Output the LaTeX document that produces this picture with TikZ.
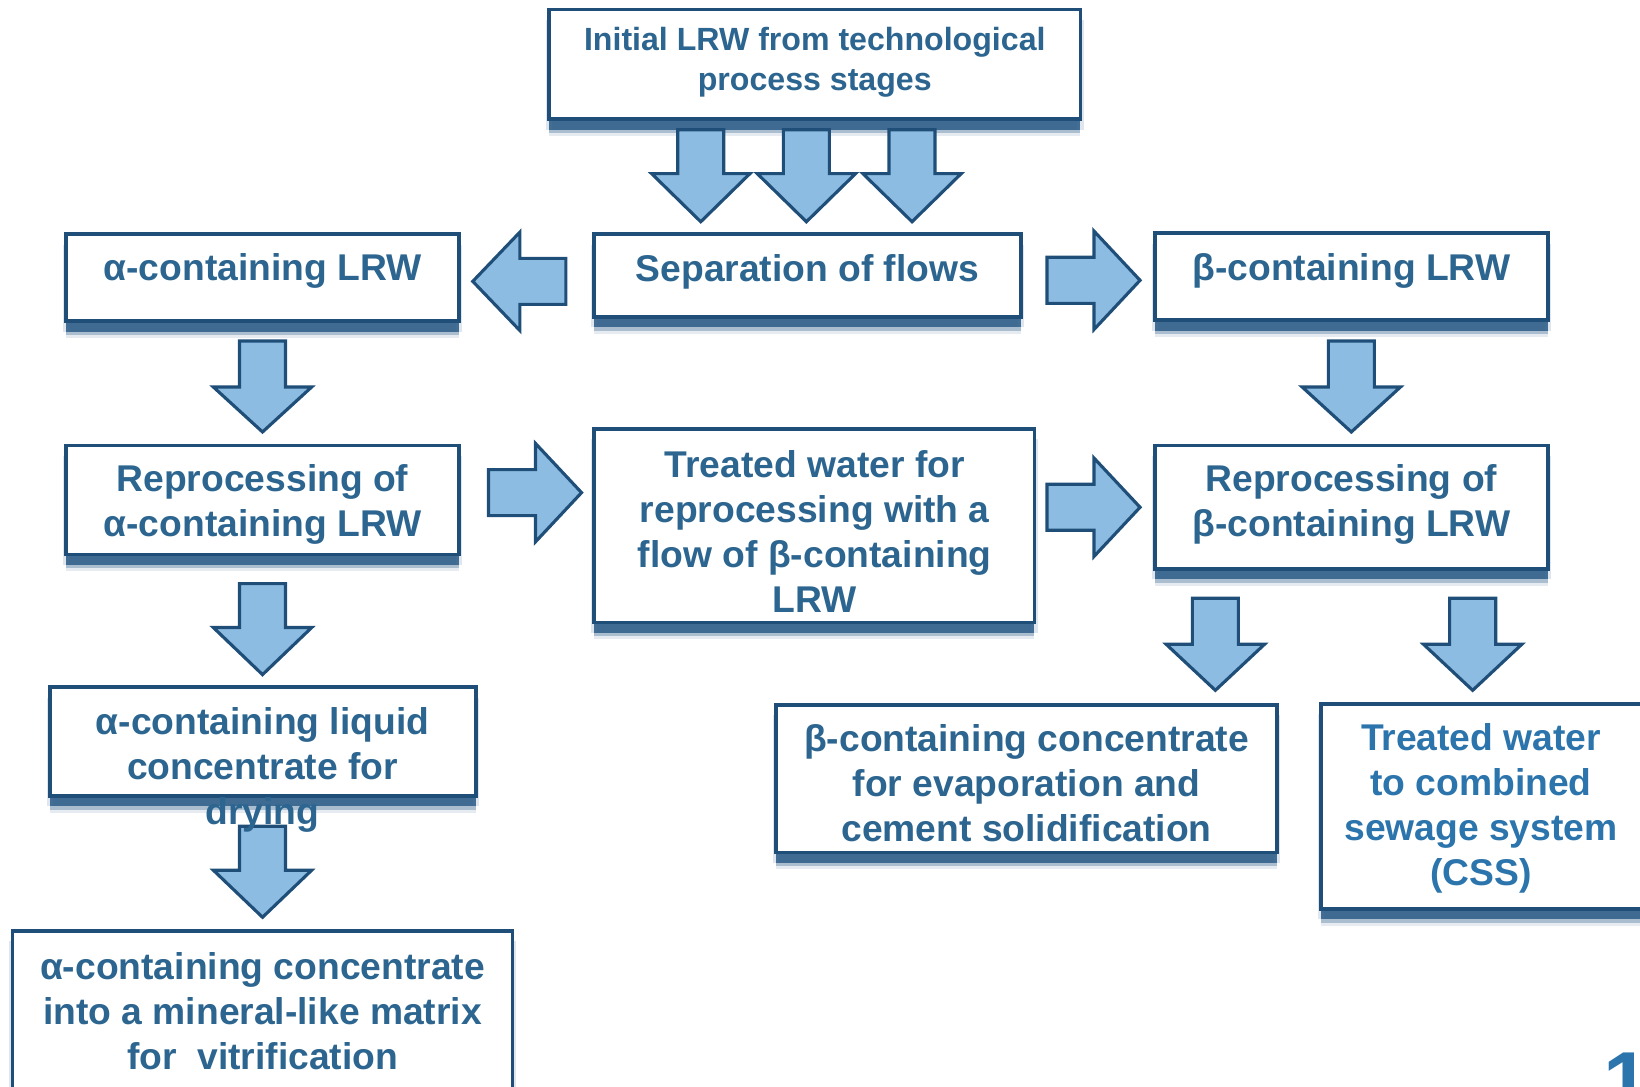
\documentclass[tikz,border=0pt]{standalone}
\usepackage{fontspec}
\setmainfont{Liberation Sans}
\usetikzlibrary{shadows}
\definecolor{bord}{RGB}{31,78,121}
\definecolor{txtc}{RGB}{44,101,143}
\definecolor{cssc}{RGB}{43,116,172}
\definecolor{arrf}{RGB}{141,188,226}
\definecolor{shad}{RGB}{38,88,133}
\newcommand\dnarr[4]{%
  \draw[barr] ({#1-22},#2) -- ({#1+22},#2) -- ({#1+22},#3) -- ({#1+47},#3) -- (#1,#4) -- ({#1-47},#3) -- ({#1-22},#3) -- cycle;}
\newcommand\rtarr[4]{%
  \draw[barr] (#2,{#1-22}) -- (#3,{#1-22}) -- (#3,{#1-47}) -- (#4,#1) -- (#3,{#1+47}) -- (#3,{#1+22}) -- (#2,{#1+22}) -- cycle;}
\begin{document}
\begin{tikzpicture}[x=1pt,y=-1pt,
  box/.style={draw=bord, line width=3.5pt, fill=white, inner sep=0pt,
    drop shadow={shadow xshift=0pt,shadow yshift=-16pt,opacity=.12,fill=shad},
    drop shadow={shadow xshift=-3pt,shadow yshift=-10pt,opacity=.15,fill=shad},
    drop shadow={shadow xshift=3pt,shadow yshift=-10pt,opacity=.15,fill=shad},
    drop shadow={shadow xshift=0pt,shadow yshift=-13pt,opacity=.3,fill=shad},
    drop shadow={shadow xshift=0pt,shadow yshift=-10pt,opacity=.75,fill=shad}},
  txt/.style={text=txtc, font=\bfseries\fontsize{35.6}{43}\selectfont, align=center, inner sep=0pt},
  barr/.style={draw=bord, fill=arrf, line width=3pt, line join=miter}]
\useasboundingbox (0,0) rectangle (1568,1039);
% boxes
\node[box, minimum width=508pt, minimum height=105pt] (top) at (779,61.5) {};
\node[box, minimum width=376pt, minimum height=83pt] (alpha) at (251,265.5) {};
\node[box, minimum width=408pt, minimum height=79pt] (sep) at (772,263.5) {};
\node[box, minimum width=376pt, minimum height=83pt] (beta) at (1292,264.5) {};
\node[box, minimum width=376pt, minimum height=104pt] (repa) at (251,478) {};
\node[box, minimum width=421pt, minimum height=185pt] (treat) at (778.5,502.5) {};
\node[box, minimum width=376pt, minimum height=118pt] (repb) at (1292,485) {};
\node[box, minimum width=407pt, minimum height=104pt] (liq) at (251.5,709) {};
\node[box, minimum width=478pt, minimum height=155pt] (vit) at (251,967.5) {};
\node[box, minimum width=479pt, minimum height=141pt] (bconc) at (981.5,744.5) {};
\node[box, minimum width=312pt, minimum height=196pt] (css) at (1419,771) {};
% arrows
\dnarr{670}{124}{166}{212}
\dnarr{771}{124}{166}{212}
\dnarr{872}{124}{166}{212}
\rtarr{269}{541}{497}{452}
\rtarr{268}{1001}{1046}{1090}
\dnarr{251}{326}{370}{413}
\dnarr{251}{558}{600}{645}
\dnarr{251}{790}{832}{877}
\rtarr{471}{467}{512}{556}
\rtarr{485}{1001}{1046}{1090}
\dnarr{1292}{326}{370}{413}
\dnarr{1162}{572}{616}{660}
\dnarr{1408}{572}{616}{660}
% texts
\node[txt, font=\bfseries\fontsize{30.7}{38}\selectfont] (topt) at (779,59.5) {Initial LRW from technological\\process stages};
\node[txt] (alphat) at (251,259) {α-containing LRW};
\node[txt] (sept) at (772,260) {Separation of flows};
\node[txt] (betat) at (1292,259) {β-containing LRW};
\node[txt] (repat) at (251,482.5) {Reprocessing of\\α-containing LRW};
\node[txt] (treatt) at (779,508) {Treated water for\\reprocessing with a\\flow of β-containing\\LRW};
\node[txt] (repbt) at (1292,482) {Reprocessing of\\β-containing LRW};
\node[txt] (liqt) at (251,736) {α-containing liquid\\concentrate for\\drying};
\node[txt] (vitt) at (251,966.5) {α-containing concentrate\\into a mineral-like matrix\\for\ \ vitrification};
\node[txt] (bconct) at (981.5,749) {β-containing concentrate\\for evaporation and\\cement solidification};
\node[txt, text=cssc] (csst) at (1416,773) {Treated water\\to combined\\sewage system\\(CSS)};
\node[anchor=base west, text=cssc, font=\bfseries\fontsize{80}{80}\selectfont, inner sep=0pt] (pnum) at (1533,1062) {1};
\end{tikzpicture}
\end{document}
